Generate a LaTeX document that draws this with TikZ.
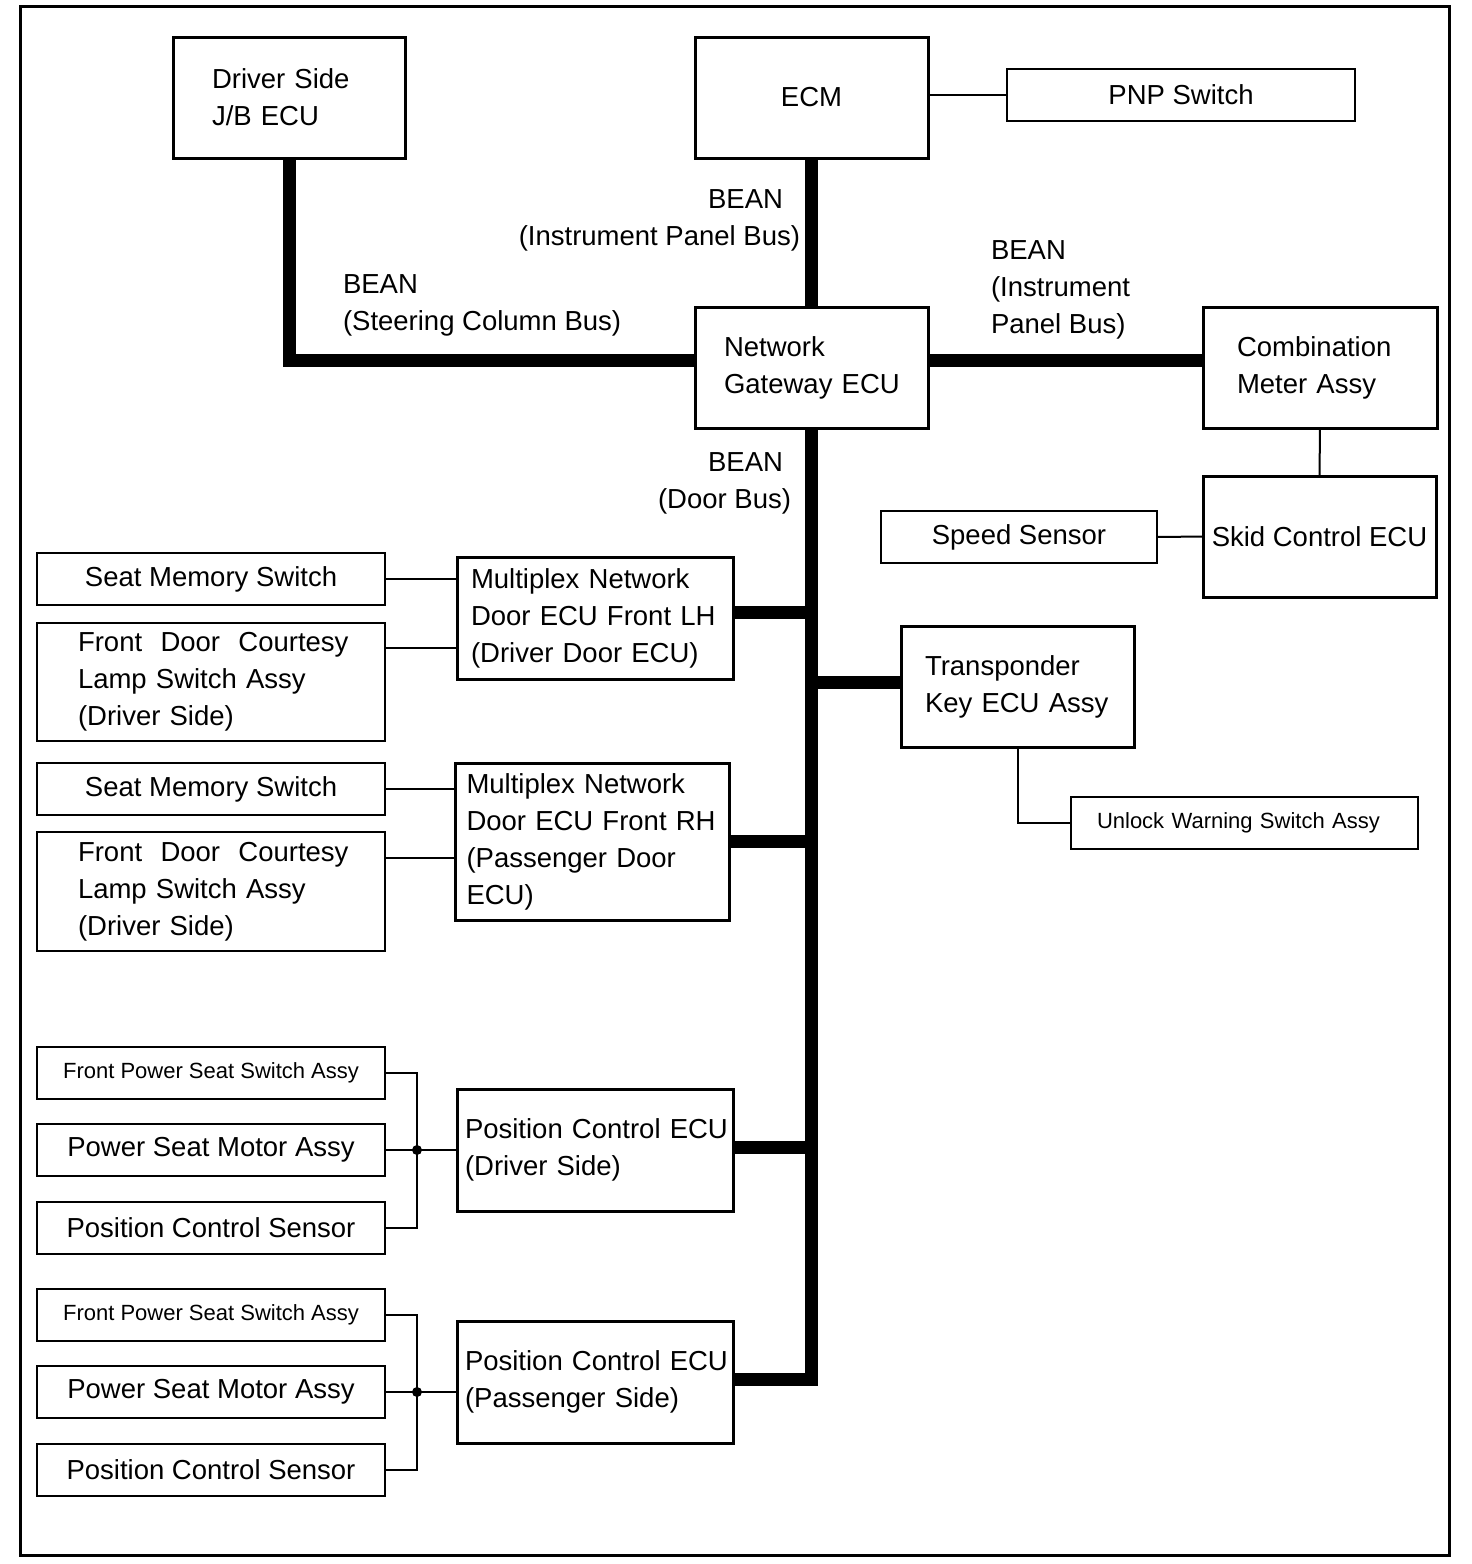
\documentclass[tikz,border=0pt]{standalone}
\usepackage{fontspec}
\setmainfont{Liberation Sans}
\usetikzlibrary{positioning,calc}
\hyphenpenalty=10000
\exhyphenpenalty=10000

\begin{document}
\begin{tikzpicture}[x=1pt,y=-1pt,
  every node/.style={font=\fontsize{27.5}{37}\selectfont,anchor=north west,outer sep=0pt},
  ecu/.style={draw,line width=3pt,minimum height=121pt,align=left},
  part/.style={draw,line width=2.5pt,minimum width=348pt,minimum height=52pt,inner xsep=4pt},
  sw/.style={draw,line width=2pt,minimum height=52pt},
  small/.style={font=\fontsize{22}{26}\selectfont},
  bean/.style={inner sep=0pt},
  bus/.style={line width=13pt},
  wire/.style={line width=2pt}]

\useasboundingbox (0,0) rectangle (1472,1564);
\draw[line width=3pt] (20.5,6.5) rectangle (1449,1555);

\node[ecu,text width=154pt,inner xsep=39pt] (jb) at (173,37) {Driver Side\\J/B ECU};
\node[ecu,minimum width=233pt] (ecm) at (695,37) {ECM};
\node[sw,minimum width=348pt] (pnp) at (1007,69) {PNP Switch};
\node[ecu,text width=175pt,inner xsep=29pt] (gw) at (695,307) {Network\\Gateway~ECU};
\node[ecu,text width=166pt,inner xsep=34pt] (cm) at (1203,307) {Combination\\Meter Assy};
\node[ecu,minimum width=233pt,inner xsep=4pt] (skid) at (1203,476) {Skid Control ECU};
\node[sw,minimum width=276pt] (speed) at (881,511) {Speed Sensor};

\node[ecu,text width=248pt,inner xsep=14pt,minimum height=122pt] (mlh) at (457,557) {Multiplex Network\\Door~ECU~Front~LH\\(Driver Door ECU)};
\node[part] (sms1) at (37,553) {Seat Memory Switch};
\node[part,minimum height=118pt,text width=266pt,inner xsep=41pt,align=left] (fdc1) at (37,623) {Front~~Door~~Courtesy\\Lamp Switch Assy\\(Driver Side)};

\node[ecu,text width=185pt,inner xsep=24pt] (tk) at (901,626) {Transponder\\Key ECU Assy};
\node[sw,small,text width=295pt,inner xsep=26pt,align=left] (uw) at (1071,797) {Unlock Warning Switch Assy};

\node[ecu,text width=251pt,inner xsep=11.5pt,minimum height=157pt] (mrh) at (455,763) {Multiplex Network\\Door~ECU~Front~RH\\(Passenger Door\\ECU)};
\node[part] (sms2) at (37,763) {Seat Memory Switch};
\node[part,minimum height=119pt,text width=266pt,inner xsep=41pt,align=left] (fdc2) at (37,832) {Front~~Door~~Courtesy\\Lamp Switch Assy\\(Driver Side)};

\node[ecu,text width=260pt,inner xsep=8pt,minimum height=122pt] (pcd) at (457,1089) {Position~Control~ECU\\(Driver Side)};
\node[ecu,text width=260pt,inner xsep=8pt,minimum height=122pt] (pcp) at (457,1321) {Position~Control~ECU\\(Passenger Side)};

\node[bean,anchor=north east,align=right] (beanip) at (800,190) {BEAN\hspace*{17pt}\\(Instrument Panel Bus)};
\node[bean,align=left] (beansc) at (343,275) {BEAN\\(Steering Column Bus)};
\node[bean,align=left] (beanmt) at (991,241) {BEAN\\(Instrument\\Panel Bus)};
\node[bean,anchor=north east,align=right] (beandr) at (791,453) {BEAN\hspace*{8pt}\\(Door Bus)};

\draw[bus] (ecm.south) -- (gw.north);
\draw[bus] (jb.south) |- ([yshift=7pt]gw.west);
\draw[bus] ([yshift=7pt]gw.east) -- ([yshift=7pt]gw.east -| cm.west);
\draw[bus] (gw.south) |- ([yshift=3pt]pcp.east);
\draw[bus] ([yshift=6pt]mlh.east) -- ([yshift=6pt]mlh.east -| gw.south);
\draw[bus] ([yshift=4pt]tk.west) -- ([yshift=4pt]tk.west -| gw.south);
\draw[bus] (mrh.east) -- (mrh.east -| gw.south);
\draw[bus] ([yshift=3pt]pcd.east) -- ([yshift=3pt]pcd.east -| gw.south);

\draw[wire] (pnp.west -| ecm.east) -- (pnp.west);
\draw[wire] (cm.south) -- (skid.north);
\draw[wire] (speed.east) -- (skid.west);
\draw[wire] (tk.south) |- (uw.west);
\draw[wire] (sms1.east) -- (sms1.east -| mlh.west);
\draw[wire] ([yshift=34pt]fdc1.east) -- ([yshift=34pt]fdc1.east -| mlh.west);
\draw[wire] (sms2.east) -- (sms2.east -| mrh.west);
\draw[wire] ([yshift=34pt]fdc2.east) -- ([yshift=34pt]fdc2.east -| mrh.west);

\foreach \s/\y in {d/1047,p/1289}{
  \node[part,small] (fps\s) at (37,\y) {Front Power Seat Switch Assy};
  \node[part] (psm\s) at (37,\y+77) {Power Seat Motor Assy};
  \node[part] (pcs\s) at (37,\y+155) {Position Control Sensor};
  \coordinate (j\s) at (417,\y+103);
  \draw[wire] (fps\s.east) -| (j\s) |- (pcs\s.east);
  \draw[wire] (psm\s.east) -- (psm\s.east -| pc\s.west);
  \fill (j\s) circle (5pt);
}

\end{tikzpicture}
\end{document}
